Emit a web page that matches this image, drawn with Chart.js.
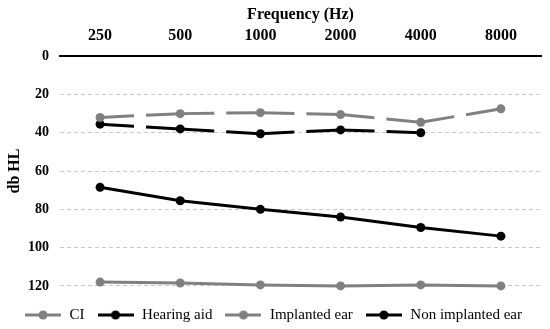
<!DOCTYPE html>
<html>
<head>
<meta charset="utf-8">
<script src="https://cdn.jsdelivr.net/npm/chart.js@4/dist/chart.umd.min.js"></script>
<style>
  html, body { margin: 0; padding: 0; background: #fff; }
  #wrap { width: 550px; height: 329px; }
</style>
</head>
<body>
<div id="wrap"><canvas id="audiogram"></canvas></div>
<script>
const frequencies = ['250', '500', '1000', '2000', '4000', '8000'];
const ciValues = [32, 30, 29.5, 30.5, 34.5, 27.5];
const hearingAidValues = [35.5, 38, 40.5, 38.5, 40, null];
const implantedEarValues = [118, 118.5, 119.5, 120, 119.5, 120];
const nonImplantedEarValues = [68.5, 75.5, 80, 84, 89.5, 94];
const yTicks = [0, 20, 40, 60, 80, 100, 120];

const GRAY = '#808080';
const BLACK = '#000000';
const serif = '"Liberation Serif", "Times New Roman", serif';

// small line + dot icon for the legend
function legendIcon(color) {
    const c = document.createElement('canvas');
    c.width = 36; c.height = 12;
    const g = c.getContext('2d');
    g.strokeStyle = color;
    g.lineWidth = 3;
    g.beginPath();
    g.moveTo(0, 6); g.lineTo(36, 6);
    g.stroke();
    g.fillStyle = color;
    g.beginPath();
    g.arc(18, 6, 4.5, 0, Math.PI * 2);
    g.fill();
    return c;
}

function series(label, data, color, dashed) {
    return {
        label: label,
        data: data,
        borderColor: color,
        backgroundColor: color,
        borderWidth: 3,
        borderDash: dashed ? [34, 12] : [],
        // restart the dash at every point (each segment stroked on its own)
        segment: dashed ? { borderDashOffset: ctx => (ctx.p0DataIndex % 2) * 0.001 } : undefined,
        pointRadius: 4.5,
        pointHoverRadius: 4.5,
        pointBorderWidth: 0,
        pointStyle: 'circle',
        legendIcon: legendIcon(color),
        tension: 0,
        clip: false
    };
}

new Chart(document.getElementById('audiogram'), {
    type: 'line',
    data: {
        labels: frequencies,
        datasets: [
            series('CI', ciValues, GRAY, true),
            series('Hearing aid', hearingAidValues, BLACK, true),
            series('Implanted ear', implantedEarValues, GRAY, false),
            series('Non implanted ear', nonImplantedEarValues, BLACK, false)
        ]
    },
    options: {
        responsive: true,
        maintainAspectRatio: false,
        animation: false,
        layout: { padding: { left: 5, right: 9, top: 5, bottom: -3.5 } },
        plugins: {
            tooltip: { enabled: false },
            legend: {
                position: 'bottom',
                title: { display: true, text: ' ', padding: 0, font: { size: 8 } },
                labels: {
                    usePointStyle: true,
                    pointStyleWidth: 38,
                    padding: 12,
                    color: '#000',
                    font: { family: serif, size: 15 },
                    generateLabels(chart) {
                        return chart.data.datasets.map((ds, i) => ({
                            text: ds.label,
                            fillStyle: ds.borderColor,
                            strokeStyle: ds.borderColor,
                            lineWidth: 0,
                            pointStyle: ds.legendIcon,
                            hidden: false,
                            datasetIndex: i,
                            fontColor: '#000'
                        }));
                    }
                }
            }
        },
        scales: {
            x: {
                position: 'top',
                offset: true,
                grid: { display: false, drawTicks: false },
                border: { display: true, color: BLACK, width: 2 },
                ticks: {
                    color: '#000',
                    padding: 12,
                    font: { family: serif, size: 16, weight: 'bold', lineHeight: 1 }
                },
                title: {
                    display: true,
                    text: 'Frequency (Hz)',
                    color: '#000',
                    padding: { top: 0, bottom: -8 },
                    font: { family: serif, size: 16, weight: 'bold' }
                }
            },
            y: {
                reverse: true,
                min: 0,
                max: 120,
                afterBuildTicks(scale) {
                    scale.ticks = yTicks.map(v => ({ value: v }));
                },
                afterFit(scale) {
                    scale.width = 55;
                },
                grid: {
                    color: '#c8c8c8',
                    lineWidth: 1,
                    drawTicks: false
                },
                border: { display: false, dash: [4, 3] },
                ticks: {
                    color: '#000',
                    padding: 11,
                    font: { family: serif, size: 14, weight: 'bold' }
                },
                title: {
                    display: true,
                    text: 'db HL',
                    color: '#000',
                    padding: { top: 0, bottom: 0 },
                    font: { family: serif, size: 16, weight: 'bold' }
                }
            }
        }
    }
});
</script>
</body>
</html>
